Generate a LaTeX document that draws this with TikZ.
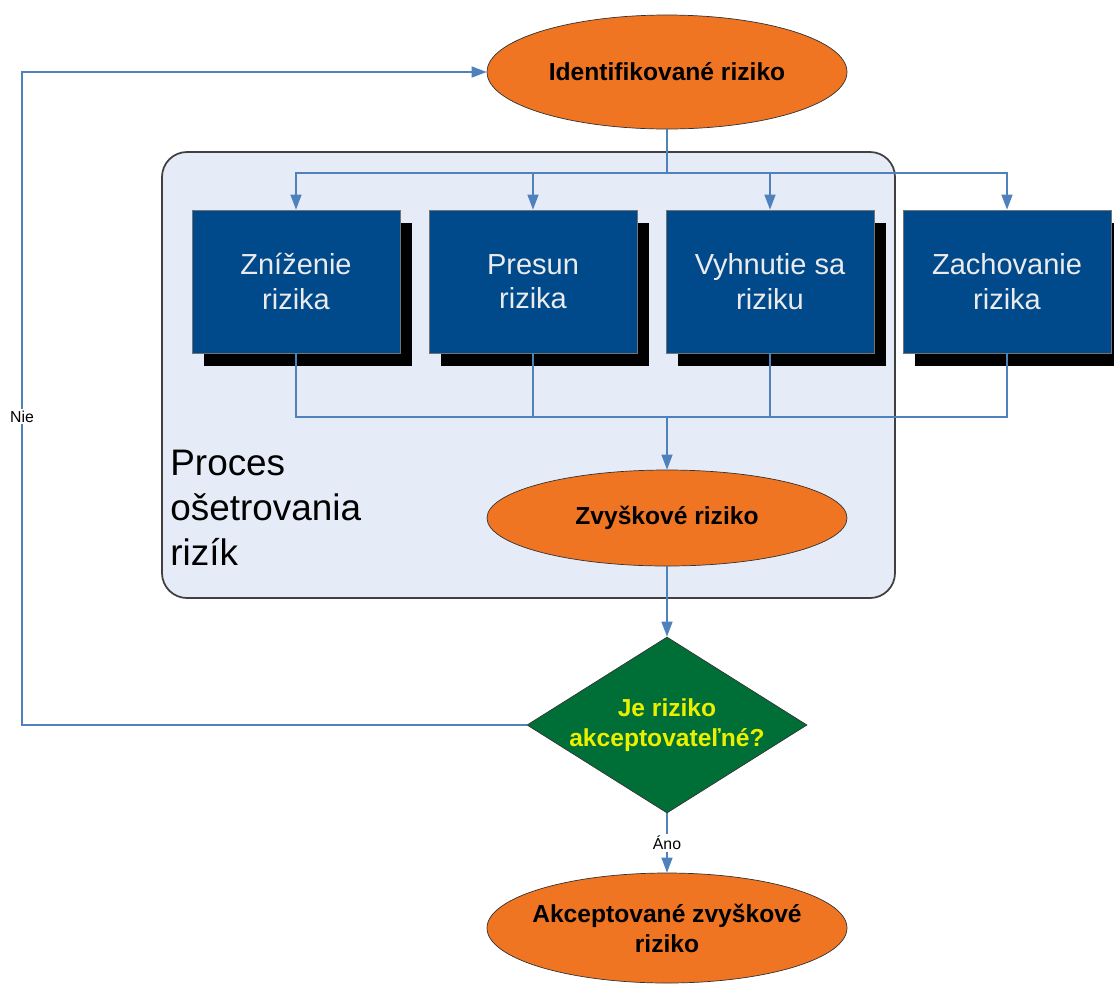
\documentclass[tikz,border=0pt]{standalone}
\usepackage{fontspec}
\setmainfont{Liberation Sans}
\usetikzlibrary{shapes.geometric,shadows,arrows.meta}

\definecolor{riskorange}{RGB}{240,117,34}
\definecolor{boxblue}{RGB}{0,74,140}
\definecolor{procfill}{RGB}{230,236,247}
\definecolor{linkblue}{RGB}{79,129,189}
\definecolor{decgreen}{RGB}{0,110,55}
\definecolor{decyellow}{RGB}{235,240,0}

\tikzset{
  flow/.style={->,>={Triangle[length=3mm,width=2.2mm]}, line width=0.8pt, draw=linkblue},
  link/.style={line width=0.8pt, draw=linkblue},
  risk/.style={ellipse, fill=riskorange, draw=black!80, thin, inner sep=0pt,
    minimum width=7.2cm, align=center, font=\fontsize{14}{17}\selectfont\bfseries},
  treat/.style={rectangle, fill=boxblue, draw=black!55, thin, inner sep=0pt,
    minimum width=4.16cm, minimum height=2.86cm, align=center,
    text=black!8, font=\fontsize{16.5}{19.5}\selectfont,
    drop shadow={shadow xshift=0.24cm, shadow yshift=-0.26cm, opacity=1, fill=black}},
  lbl/.style={fill=white, inner sep=1pt, font=\fontsize{9}{10}\selectfont}
}

\begin{document}
\begin{tikzpicture}

\useasboundingbox (0,0) rectangle (22.28,-19.76);

% Draw the treatment process frame
\node[rectangle, rounded corners=0.5cm, fill=procfill, draw=black!75, line width=1pt,
  minimum width=14.66cm, minimum height=8.92cm] (proc) at (10.57,-7.5) {};
\node[anchor=west, inner sep=0pt, align=left, font=\fontsize{21}{25.5}\selectfont]
  (proctext) at (3.4,-10.16) {Proces\\ošetrovania\\rizík};

% Draw the risk nodes
\node[risk, minimum height=2.28cm] (ident) at (13.34,-1.44) {Identifikované riziko};
\node[risk, minimum height=1.92cm] (resid) at (13.34,-10.36) {Zvyškové riziko};
\node[risk, minimum height=2.2cm, inner xsep=-0.15cm] (acc) at (13.34,-18.56) {Akceptované zvyškové\\riziko};

% Draw the four treatment options
\node[treat] (b1) at (5.92,-5.63) {Zníženie\\rizika};
\node[treat] (b2) at (10.66,-5.63) {Presun\\rizika};
\node[treat] (b3) at (15.40,-5.63) {Vyhnutie sa\\riziku};
\node[treat] (b4) at (20.14,-5.63) {Zachovanie\\rizika};

% Draw the decision
\node[diamond, fill=decgreen, draw=black!80, thin, inner sep=0pt, aspect=1.59,
  minimum width=5.6cm, minimum height=3.52cm, align=center, text=decyellow,
  font=\fontsize{14}{17}\selectfont\bfseries] (dec) at (13.34,-14.5) {Je riziko\\akceptovateľné?};

\coordinate (split) at (13.34,-3.46);
\coordinate (merge) at (13.34,-8.34);
\coordinate (fb) at (0.44,-1.44);

% Split to the options
\draw[link] (ident.south) -- (split);
\foreach \b in {b1,b2,b3,b4}
  \draw[flow] (split) -| (\b.north);

% Join the options
\foreach \b in {b1,b2,b3,b4}
  \draw[link] (\b.south) |- (merge);
\draw[flow] (merge) -- (resid.north);

\draw[flow] (resid.south) -- (dec.north);
\draw[flow] (dec.south) -- node[lbl] {Áno} (acc.north);
\draw[flow] (dec.west) -| node[lbl, pos=0.736] {Nie} (fb) -- (ident.west);

\end{tikzpicture}
\end{document}
